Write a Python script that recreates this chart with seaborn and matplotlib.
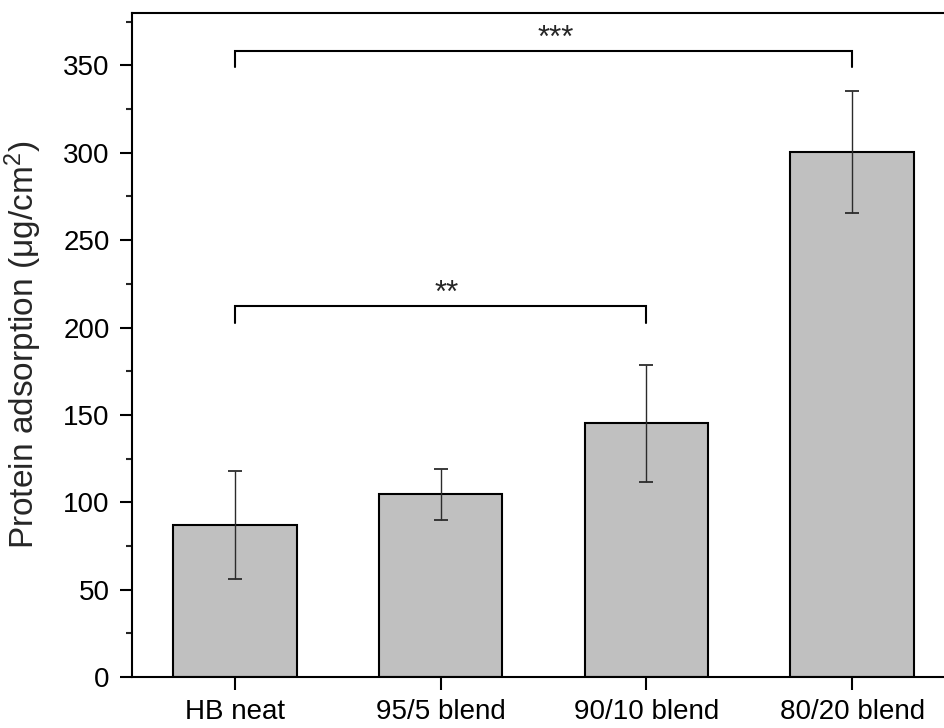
import matplotlib
matplotlib.use("Agg")
import numpy as np
import pandas as pd
import seaborn as sns
import matplotlib.pyplot as plt

# data
samples = ['HB neat', '95/5 blend', '90/10 blend', '80/20 blend']
means = [86.9, 104.5, 145.1, 300.3]
errors = [31.0, 14.7, 33.3, 35.0]
yticks = [0, 50, 100, 150, 200, 250, 300, 350]

sns.set_theme(style='ticks')
plt.rcParams['font.family'] = ['Liberation Sans', 'DejaVu Sans']
plt.rcParams['mathtext.fontset'] = 'custom'
plt.rcParams['mathtext.rm'] = 'Liberation Sans'
plt.rcParams['mathtext.it'] = 'Liberation Sans:italic'

df = pd.DataFrame({'sample': samples, 'value': means})

fig = plt.figure(figsize=(9.45, 7.28), dpi=100)
# right edge of the frame lies just outside the picture, as in the reference
ax = fig.add_axes([0.1397, 0.0701, 0.8709, 0.912])

sns.barplot(data=df, x='sample', y='value', order=samples, color='#c0c0c0',
            saturation=1, width=0.6, edgecolor='black', linewidth=1.5,
            errorbar=None, ax=ax)
ax.errorbar(np.arange(len(samples)), means, yerr=errors, fmt='none',
            ecolor='#2b2b2b', elinewidth=1.0, capsize=4.7, capthick=1.3, zorder=3)

ax.set_xlim(-0.5, 3.5)
ax.set_ylim(0, 380)
ax.set_yticks(yticks)
ax.set_yticks(np.arange(25, 380, 50), minor=True)
ax.set_xlabel('')
ax.set_ylabel('Protein adsorption (μg/cm$^{2}$)', fontsize=24, labelpad=14)

for s in ax.spines.values():
    s.set_linewidth(1.5)
    s.set_color('black')
ax.tick_params(axis='both', which='major', direction='out', length=9,
               width=1.5, labelsize=20, colors='black')
ax.tick_params(axis='y', which='minor', direction='out', length=4.5, width=1.5)
ax.tick_params(axis='x', pad=7)
ax.tick_params(axis='y', pad=7)

# significance brackets
def bracket(x0, x1, y, drop, label, tx):
    ax.plot([x0, x0, x1, x1], [y - drop, y, y, y - drop], color='black',
            lw=1.5, solid_joinstyle='miter', clip_on=False)
    ax.text(tx, y - 1.5, label, ha='center', va='bottom', fontsize=22.5)

bracket(0, 3, 358, 9, '***', 1.56)
bracket(0, 2, 212.3, 9.5, '**', 1.03)

fig.savefig('out.png', dpi=100)
